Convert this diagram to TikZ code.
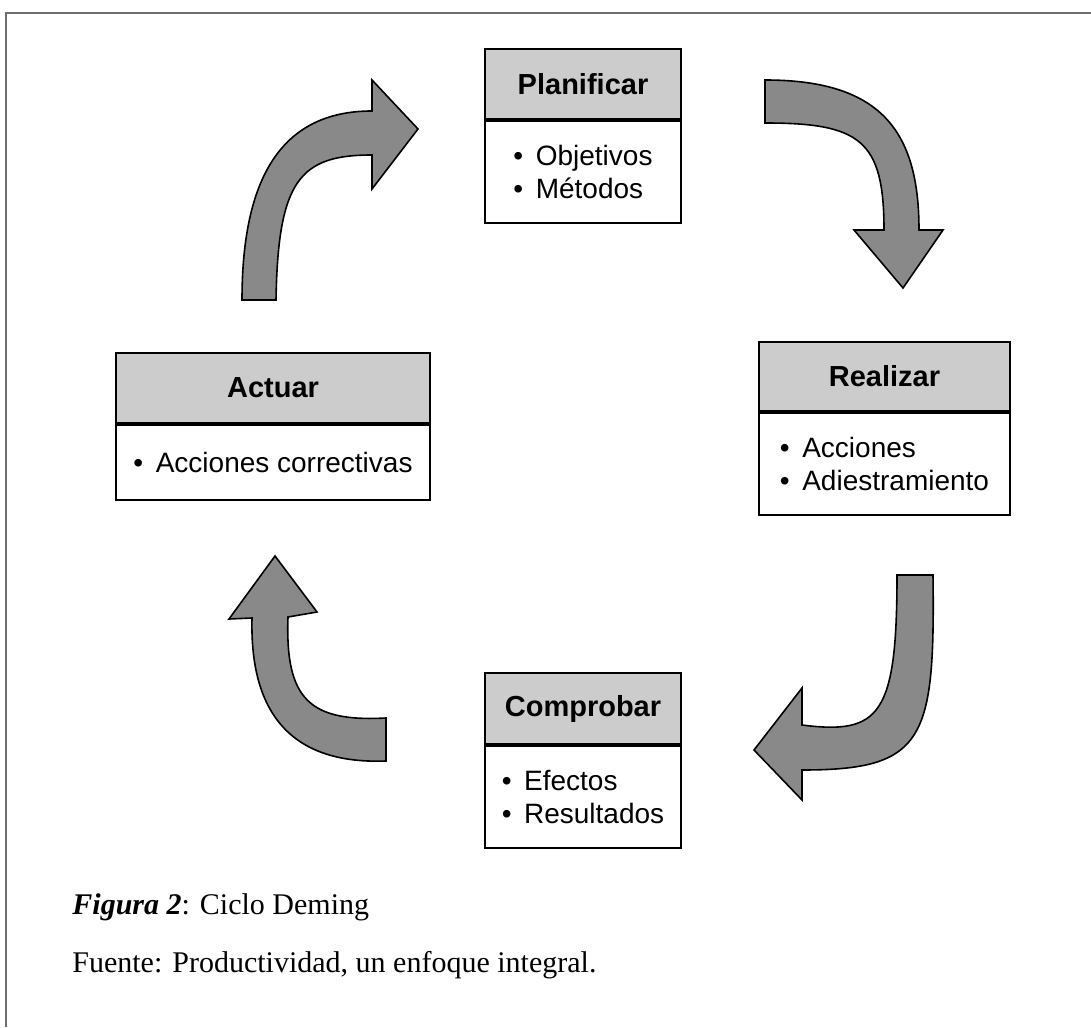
\documentclass[tikz,border=0pt]{standalone}
\usepackage{fontspec}
\setmainfont{Liberation Serif}
\setsansfont{Liberation Sans}
\usepackage{xcolor}
\usepackage{tikz}
\usetikzlibrary{positioning}

\definecolor{headgray}{RGB}{204,204,204}
\definecolor{arrowgray}{RGB}{137,137,137}
\definecolor{framegray}{RGB}{110,110,110}

\newcommand{\itembul}{\textbullet\hspace{0.45em}}

\begin{document}
\begin{tikzpicture}[
    x=0.5pt, y=-0.5pt,
    head/.style={
        draw, rectangle, line width=1pt, fill=headgray,
        inner sep=0pt, minimum height=35pt,
        font=\sffamily\bfseries\fontsize{14.5}{17}\selectfont
    },
    body/.style={
        draw, rectangle, line width=1pt, fill=white,
        inner sep=0pt, align=left, minimum height=51pt,
        font=\sffamily\fontsize{14}{16.5}\selectfont
    },
    bigarrow/.style={draw, fill=arrowgray, line width=0.8pt, line join=miter},
    frame/.style={draw=framegray, line width=1pt},
    caption/.style={anchor=base west, inner sep=0pt, font=\fontsize{15}{18}\selectfont}
]
\useasboundingbox (0,0) rectangle (1091,1027);

% marco
\draw[frame] (1091,13) -- (6,13) -- (6,1027);

% Planificar
\node[head, minimum width=98pt] (plan) at (583,84) {Planificar};
\node[body, minimum width=98pt, below=0pt of plan] (planbody)
    {\itembul Objetivos\\\itembul Métodos};

% Realizar
\node[head, minimum width=125.5pt, minimum height=34.5pt] (real) at (884.5,376.5) {Realizar};
\node[body, minimum width=125.5pt, below=0pt of real] (realbody)
    {\itembul Acciones\\\itembul Adiestramiento};

% Comprobar
\node[head, minimum width=98pt, minimum height=35.5pt] (comp) at (583,708.5) {Comprobar};
\node[body, minimum width=98pt, below=0pt of comp] (compbody)
    {\itembul Efectos\\\itembul Resultados};

% Actuar
\node[head, minimum width=157pt] (act) at (273,388) {Actuar};
\node[body, minimum width=157pt, minimum height=37.5pt, below=0pt of act] (actbody)
    {\itembul Acciones correctivas};

% flechas del ciclo
\draw[bigarrow] (242,300) .. controls (242,180) and (280,111) .. (372,111)
    -- (372,80) -- (418,129) -- (372,189) -- (372,155)
    .. controls (300,155) and (278,180) .. (276,300) -- cycle;
\draw[bigarrow] (765,80) .. controls (880,80) and (919,130) .. (919,230)
    -- (943,230) -- (903,288) -- (854,230) -- (884,230)
    .. controls (884,140) and (860,123) .. (765,123) -- cycle;
\draw[bigarrow] (933,575) .. controls (935,740) and (925,770) .. (802,770)
    -- (802,800) -- (754,750) -- (802,688) -- (802,725)
    .. controls (880,735) and (897,715) .. (897,575) -- cycle;
\draw[bigarrow] (386,761) .. controls (280,765) and (250,700) .. (252,618)
    -- (229,619) -- (275,556) -- (317,612) -- (288,617)
    .. controls (285,700) and (310,722) .. (386,718) -- cycle;

% pie de figura
\node[caption] (fig) at (72,914) {\textbf{\textit{Figura 2}}: Ciclo Deming};
\node[caption] (src) at (72,972) {Fuente: Productividad, un enfoque integral.};

\end{tikzpicture}
\end{document}
